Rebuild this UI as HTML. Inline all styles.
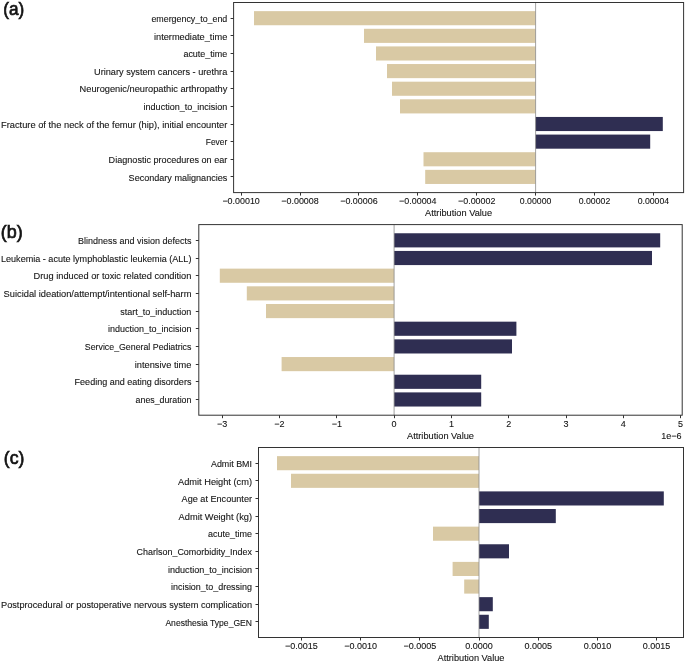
<!DOCTYPE html><html><head><meta charset="utf-8"><style>html,body{margin:0;padding:0;background:#fff;overflow:hidden;}svg{display:block;will-change:transform;}text{font-family:"Liberation Sans",sans-serif;}</style></head><body><svg width="685" height="662" viewBox="0 0 685 662" font-family="Liberation Sans, sans-serif">
<rect width="685" height="662" fill="#ffffff"/>
<rect x="254.00" y="11.14" width="281.60" height="14.11" fill="#D9C9A4"/>
<rect x="364.00" y="28.78" width="171.60" height="14.11" fill="#D9C9A4"/>
<rect x="376.00" y="46.41" width="159.60" height="14.11" fill="#D9C9A4"/>
<rect x="387.00" y="64.04" width="148.60" height="14.11" fill="#D9C9A4"/>
<rect x="392.00" y="81.68" width="143.60" height="14.11" fill="#D9C9A4"/>
<rect x="400.00" y="99.31" width="135.60" height="14.11" fill="#D9C9A4"/>
<rect x="535.60" y="116.95" width="127.20" height="14.11" fill="#2F2E52"/>
<rect x="535.60" y="134.58" width="114.60" height="14.11" fill="#2F2E52"/>
<rect x="423.50" y="152.22" width="112.10" height="14.11" fill="#D9C9A4"/>
<rect x="425.20" y="169.85" width="110.40" height="14.11" fill="#D9C9A4"/>
<line x1="535.60" y1="2.5" x2="535.60" y2="192.6" stroke="#8a8a8a" stroke-width="0.8"/>
<rect x="233.6" y="2.5" width="450.0" height="190.1" fill="none" stroke="#333333" stroke-width="1"/>
<line x1="230.60" y1="18.50" x2="233.6" y2="18.50" stroke="#333333" stroke-width="1"/>
<text x="227.30" y="21.89" text-anchor="end" font-size="9.0" textLength="75.90" lengthAdjust="spacingAndGlyphs" fill="#141414" stroke="#141414" stroke-width="0.1">emergency_to_end</text>
<line x1="230.60" y1="35.50" x2="233.6" y2="35.50" stroke="#333333" stroke-width="1"/>
<text x="227.30" y="39.53" text-anchor="end" font-size="9.0" textLength="73.30" lengthAdjust="spacingAndGlyphs" fill="#141414" stroke="#141414" stroke-width="0.1">intermediate_time</text>
<line x1="230.60" y1="53.50" x2="233.6" y2="53.50" stroke="#333333" stroke-width="1"/>
<text x="227.30" y="57.16" text-anchor="end" font-size="9.0" textLength="43.90" lengthAdjust="spacingAndGlyphs" fill="#141414" stroke="#141414" stroke-width="0.1">acute_time</text>
<line x1="230.60" y1="71.50" x2="233.6" y2="71.50" stroke="#333333" stroke-width="1"/>
<text x="227.30" y="74.80" text-anchor="end" font-size="9.0" textLength="133.30" lengthAdjust="spacingAndGlyphs" fill="#141414" stroke="#141414" stroke-width="0.1">Urinary system cancers - urethra</text>
<line x1="230.60" y1="88.50" x2="233.6" y2="88.50" stroke="#333333" stroke-width="1"/>
<text x="227.30" y="92.43" text-anchor="end" font-size="9.0" textLength="147.70" lengthAdjust="spacingAndGlyphs" fill="#141414" stroke="#141414" stroke-width="0.1">Neurogenic/neuropathic arthropathy</text>
<line x1="230.60" y1="106.50" x2="233.6" y2="106.50" stroke="#333333" stroke-width="1"/>
<text x="227.30" y="110.07" text-anchor="end" font-size="9.0" textLength="83.70" lengthAdjust="spacingAndGlyphs" fill="#141414" stroke="#141414" stroke-width="0.1">induction_to_incision</text>
<line x1="230.60" y1="124.50" x2="233.6" y2="124.50" stroke="#333333" stroke-width="1"/>
<text x="227.30" y="127.70" text-anchor="end" font-size="9.0" textLength="226.30" lengthAdjust="spacingAndGlyphs" fill="#141414" stroke="#141414" stroke-width="0.1">Fracture of the neck of the femur (hip), initial encounter</text>
<line x1="230.60" y1="141.50" x2="233.6" y2="141.50" stroke="#333333" stroke-width="1"/>
<text x="227.30" y="145.34" text-anchor="end" font-size="9.0" textLength="21.50" lengthAdjust="spacingAndGlyphs" fill="#141414" stroke="#141414" stroke-width="0.1">Fever</text>
<line x1="230.60" y1="159.50" x2="233.6" y2="159.50" stroke="#333333" stroke-width="1"/>
<text x="227.30" y="162.97" text-anchor="end" font-size="9.0" textLength="118.70" lengthAdjust="spacingAndGlyphs" fill="#141414" stroke="#141414" stroke-width="0.1">Diagnostic procedures on ear</text>
<line x1="230.60" y1="176.50" x2="233.6" y2="176.50" stroke="#333333" stroke-width="1"/>
<text x="227.30" y="180.61" text-anchor="end" font-size="9.0" textLength="98.70" lengthAdjust="spacingAndGlyphs" fill="#141414" stroke="#141414" stroke-width="0.1">Secondary malignancies</text>
<line x1="241.50" y1="192.6" x2="241.50" y2="195.60" stroke="#333333" stroke-width="1"/>
<text x="241.10" y="204.40" text-anchor="middle" font-size="9.0" textLength="37.40" lengthAdjust="spacingAndGlyphs" fill="#141414" stroke="#141414" stroke-width="0.1">−0.00010</text>
<line x1="300.50" y1="192.6" x2="300.50" y2="195.60" stroke="#333333" stroke-width="1"/>
<text x="300.00" y="204.40" text-anchor="middle" font-size="9.0" textLength="37.40" lengthAdjust="spacingAndGlyphs" fill="#141414" stroke="#141414" stroke-width="0.1">−0.00008</text>
<line x1="358.50" y1="192.6" x2="358.50" y2="195.60" stroke="#333333" stroke-width="1"/>
<text x="358.90" y="204.40" text-anchor="middle" font-size="9.0" textLength="37.40" lengthAdjust="spacingAndGlyphs" fill="#141414" stroke="#141414" stroke-width="0.1">−0.00006</text>
<line x1="417.50" y1="192.6" x2="417.50" y2="195.60" stroke="#333333" stroke-width="1"/>
<text x="417.80" y="204.40" text-anchor="middle" font-size="9.0" textLength="37.40" lengthAdjust="spacingAndGlyphs" fill="#141414" stroke="#141414" stroke-width="0.1">−0.00004</text>
<line x1="476.50" y1="192.6" x2="476.50" y2="195.60" stroke="#333333" stroke-width="1"/>
<text x="476.70" y="204.40" text-anchor="middle" font-size="9.0" textLength="37.40" lengthAdjust="spacingAndGlyphs" fill="#141414" stroke="#141414" stroke-width="0.1">−0.00002</text>
<line x1="535.50" y1="192.6" x2="535.50" y2="195.60" stroke="#333333" stroke-width="1"/>
<text x="535.60" y="204.40" text-anchor="middle" font-size="9.0" textLength="31.50" lengthAdjust="spacingAndGlyphs" fill="#141414" stroke="#141414" stroke-width="0.1">0.00000</text>
<line x1="594.50" y1="192.6" x2="594.50" y2="195.60" stroke="#333333" stroke-width="1"/>
<text x="594.50" y="204.40" text-anchor="middle" font-size="9.0" textLength="31.50" lengthAdjust="spacingAndGlyphs" fill="#141414" stroke="#141414" stroke-width="0.1">0.00002</text>
<line x1="653.50" y1="192.6" x2="653.50" y2="195.60" stroke="#333333" stroke-width="1"/>
<text x="653.40" y="204.40" text-anchor="middle" font-size="9.0" textLength="31.50" lengthAdjust="spacingAndGlyphs" fill="#141414" stroke="#141414" stroke-width="0.1">0.00004</text>
<text x="458.60" y="216.00" text-anchor="middle" font-size="9.0" textLength="67.00" lengthAdjust="spacingAndGlyphs" fill="#141414" stroke="#141414" stroke-width="0.1">Attribution Value</text>
<rect x="394.10" y="233.26" width="266.10" height="14.14" fill="#2F2E52"/>
<rect x="394.10" y="250.94" width="257.90" height="14.14" fill="#2F2E52"/>
<rect x="219.80" y="268.63" width="174.30" height="14.14" fill="#D9C9A4"/>
<rect x="246.80" y="286.31" width="147.30" height="14.14" fill="#D9C9A4"/>
<rect x="266.00" y="303.99" width="128.10" height="14.14" fill="#D9C9A4"/>
<rect x="394.10" y="321.67" width="122.30" height="14.14" fill="#2F2E52"/>
<rect x="394.10" y="339.35" width="117.90" height="14.14" fill="#2F2E52"/>
<rect x="281.60" y="357.03" width="112.50" height="14.14" fill="#D9C9A4"/>
<rect x="394.10" y="374.71" width="87.10" height="14.14" fill="#2F2E52"/>
<rect x="394.10" y="392.39" width="87.10" height="14.14" fill="#2F2E52"/>
<line x1="394.10" y1="224.6" x2="394.10" y2="415.2" stroke="#8a8a8a" stroke-width="0.8"/>
<rect x="198.8" y="224.6" width="483.40000000000003" height="190.6" fill="none" stroke="#333333" stroke-width="1"/>
<line x1="195.80" y1="240.50" x2="198.8" y2="240.50" stroke="#333333" stroke-width="1"/>
<text x="191.40" y="244.04" text-anchor="end" font-size="9.0" textLength="113.40" lengthAdjust="spacingAndGlyphs" fill="#141414" stroke="#141414" stroke-width="0.1">Blindness and vision defects</text>
<line x1="195.80" y1="258.50" x2="198.8" y2="258.50" stroke="#333333" stroke-width="1"/>
<text x="191.40" y="261.72" text-anchor="end" font-size="9.0" textLength="190.40" lengthAdjust="spacingAndGlyphs" fill="#141414" stroke="#141414" stroke-width="0.1">Leukemia - acute lymphoblastic leukemia (ALL)</text>
<line x1="195.80" y1="275.50" x2="198.8" y2="275.50" stroke="#333333" stroke-width="1"/>
<text x="191.40" y="279.40" text-anchor="end" font-size="9.0" textLength="157.80" lengthAdjust="spacingAndGlyphs" fill="#141414" stroke="#141414" stroke-width="0.1">Drug induced or toxic related condition</text>
<line x1="195.80" y1="293.50" x2="198.8" y2="293.50" stroke="#333333" stroke-width="1"/>
<text x="191.40" y="297.08" text-anchor="end" font-size="9.0" textLength="187.80" lengthAdjust="spacingAndGlyphs" fill="#141414" stroke="#141414" stroke-width="0.1">Suicidal ideation/attempt/intentional self-harm</text>
<line x1="195.80" y1="311.50" x2="198.8" y2="311.50" stroke="#333333" stroke-width="1"/>
<text x="191.40" y="314.76" text-anchor="end" font-size="9.0" textLength="71.20" lengthAdjust="spacingAndGlyphs" fill="#141414" stroke="#141414" stroke-width="0.1">start_to_induction</text>
<line x1="195.80" y1="328.50" x2="198.8" y2="328.50" stroke="#333333" stroke-width="1"/>
<text x="191.40" y="332.44" text-anchor="end" font-size="9.0" textLength="83.40" lengthAdjust="spacingAndGlyphs" fill="#141414" stroke="#141414" stroke-width="0.1">induction_to_incision</text>
<line x1="195.80" y1="346.50" x2="198.8" y2="346.50" stroke="#333333" stroke-width="1"/>
<text x="191.40" y="350.12" text-anchor="end" font-size="9.0" textLength="106.60" lengthAdjust="spacingAndGlyphs" fill="#141414" stroke="#141414" stroke-width="0.1">Service_General Pediatrics</text>
<line x1="195.80" y1="364.50" x2="198.8" y2="364.50" stroke="#333333" stroke-width="1"/>
<text x="191.40" y="367.80" text-anchor="end" font-size="9.0" textLength="56.60" lengthAdjust="spacingAndGlyphs" fill="#141414" stroke="#141414" stroke-width="0.1">intensive time</text>
<line x1="195.80" y1="381.50" x2="198.8" y2="381.50" stroke="#333333" stroke-width="1"/>
<text x="191.40" y="385.48" text-anchor="end" font-size="9.0" textLength="116.80" lengthAdjust="spacingAndGlyphs" fill="#141414" stroke="#141414" stroke-width="0.1">Feeding and eating disorders</text>
<line x1="195.80" y1="399.50" x2="198.8" y2="399.50" stroke="#333333" stroke-width="1"/>
<text x="191.40" y="403.16" text-anchor="end" font-size="9.0" textLength="55.80" lengthAdjust="spacingAndGlyphs" fill="#141414" stroke="#141414" stroke-width="0.1">anes_duration</text>
<line x1="222.50" y1="415.2" x2="222.50" y2="418.20" stroke="#333333" stroke-width="1"/>
<text x="222.20" y="427.00" text-anchor="middle" font-size="9.0" fill="#141414" stroke="#141414" stroke-width="0.1">−3</text>
<line x1="279.50" y1="415.2" x2="279.50" y2="418.20" stroke="#333333" stroke-width="1"/>
<text x="279.50" y="427.00" text-anchor="middle" font-size="9.0" fill="#141414" stroke="#141414" stroke-width="0.1">−2</text>
<line x1="336.50" y1="415.2" x2="336.50" y2="418.20" stroke="#333333" stroke-width="1"/>
<text x="336.80" y="427.00" text-anchor="middle" font-size="9.0" fill="#141414" stroke="#141414" stroke-width="0.1">−1</text>
<line x1="394.50" y1="415.2" x2="394.50" y2="418.20" stroke="#333333" stroke-width="1"/>
<text x="394.10" y="427.00" text-anchor="middle" font-size="9.0" fill="#141414" stroke="#141414" stroke-width="0.1">0</text>
<line x1="451.50" y1="415.2" x2="451.50" y2="418.20" stroke="#333333" stroke-width="1"/>
<text x="451.40" y="427.00" text-anchor="middle" font-size="9.0" fill="#141414" stroke="#141414" stroke-width="0.1">1</text>
<line x1="508.50" y1="415.2" x2="508.50" y2="418.20" stroke="#333333" stroke-width="1"/>
<text x="508.70" y="427.00" text-anchor="middle" font-size="9.0" fill="#141414" stroke="#141414" stroke-width="0.1">2</text>
<line x1="566.50" y1="415.2" x2="566.50" y2="418.20" stroke="#333333" stroke-width="1"/>
<text x="566.00" y="427.00" text-anchor="middle" font-size="9.0" fill="#141414" stroke="#141414" stroke-width="0.1">3</text>
<line x1="623.50" y1="415.2" x2="623.50" y2="418.20" stroke="#333333" stroke-width="1"/>
<text x="623.30" y="427.00" text-anchor="middle" font-size="9.0" fill="#141414" stroke="#141414" stroke-width="0.1">4</text>
<line x1="680.50" y1="415.2" x2="680.50" y2="418.20" stroke="#333333" stroke-width="1"/>
<text x="680.60" y="427.00" text-anchor="middle" font-size="9.0" fill="#141414" stroke="#141414" stroke-width="0.1">5</text>
<text x="440.50" y="438.60" text-anchor="middle" font-size="9.0" textLength="67.00" lengthAdjust="spacingAndGlyphs" fill="#141414" stroke="#141414" stroke-width="0.1">Attribution Value</text>
<rect x="277.00" y="456.14" width="202.00" height="14.10" fill="#D9C9A4"/>
<rect x="291.00" y="473.76" width="188.00" height="14.10" fill="#D9C9A4"/>
<rect x="479.00" y="491.39" width="184.80" height="14.10" fill="#2F2E52"/>
<rect x="479.00" y="509.01" width="76.80" height="14.10" fill="#2F2E52"/>
<rect x="433.00" y="526.64" width="46.00" height="14.10" fill="#D9C9A4"/>
<rect x="479.00" y="544.26" width="30.00" height="14.10" fill="#2F2E52"/>
<rect x="452.60" y="561.89" width="26.40" height="14.10" fill="#D9C9A4"/>
<rect x="464.20" y="579.51" width="14.80" height="14.10" fill="#D9C9A4"/>
<rect x="479.00" y="597.14" width="13.80" height="14.10" fill="#2F2E52"/>
<rect x="479.00" y="614.76" width="9.80" height="14.10" fill="#2F2E52"/>
<line x1="479.00" y1="447.5" x2="479.00" y2="637.5" stroke="#8a8a8a" stroke-width="0.8"/>
<rect x="258.5" y="447.5" width="425.0" height="190.0" fill="none" stroke="#333333" stroke-width="1"/>
<line x1="255.50" y1="463.50" x2="258.5" y2="463.50" stroke="#333333" stroke-width="1"/>
<text x="252.00" y="466.89" text-anchor="end" font-size="9.0" textLength="41.00" lengthAdjust="spacingAndGlyphs" fill="#141414" stroke="#141414" stroke-width="0.1">Admit BMI</text>
<line x1="255.50" y1="480.50" x2="258.5" y2="480.50" stroke="#333333" stroke-width="1"/>
<text x="252.00" y="484.51" text-anchor="end" font-size="9.0" textLength="74.00" lengthAdjust="spacingAndGlyphs" fill="#141414" stroke="#141414" stroke-width="0.1">Admit Height (cm)</text>
<line x1="255.50" y1="498.50" x2="258.5" y2="498.50" stroke="#333333" stroke-width="1"/>
<text x="252.00" y="502.14" text-anchor="end" font-size="9.0" textLength="70.40" lengthAdjust="spacingAndGlyphs" fill="#141414" stroke="#141414" stroke-width="0.1">Age at Encounter</text>
<line x1="255.50" y1="516.50" x2="258.5" y2="516.50" stroke="#333333" stroke-width="1"/>
<text x="252.00" y="519.76" text-anchor="end" font-size="9.0" textLength="73.40" lengthAdjust="spacingAndGlyphs" fill="#141414" stroke="#141414" stroke-width="0.1">Admit Weight (kg)</text>
<line x1="255.50" y1="533.50" x2="258.5" y2="533.50" stroke="#333333" stroke-width="1"/>
<text x="252.00" y="537.39" text-anchor="end" font-size="9.0" textLength="44.00" lengthAdjust="spacingAndGlyphs" fill="#141414" stroke="#141414" stroke-width="0.1">acute_time</text>
<line x1="255.50" y1="551.50" x2="258.5" y2="551.50" stroke="#333333" stroke-width="1"/>
<text x="252.00" y="555.01" text-anchor="end" font-size="9.0" textLength="115.40" lengthAdjust="spacingAndGlyphs" fill="#141414" stroke="#141414" stroke-width="0.1">Charlson_Comorbidity_Index</text>
<line x1="255.50" y1="568.50" x2="258.5" y2="568.50" stroke="#333333" stroke-width="1"/>
<text x="252.00" y="572.64" text-anchor="end" font-size="9.0" textLength="84.00" lengthAdjust="spacingAndGlyphs" fill="#141414" stroke="#141414" stroke-width="0.1">induction_to_incision</text>
<line x1="255.50" y1="586.50" x2="258.5" y2="586.50" stroke="#333333" stroke-width="1"/>
<text x="252.00" y="590.26" text-anchor="end" font-size="9.0" textLength="81.00" lengthAdjust="spacingAndGlyphs" fill="#141414" stroke="#141414" stroke-width="0.1">incision_to_dressing</text>
<line x1="255.50" y1="604.50" x2="258.5" y2="604.50" stroke="#333333" stroke-width="1"/>
<text x="252.00" y="607.89" text-anchor="end" font-size="9.0" textLength="251.00" lengthAdjust="spacingAndGlyphs" fill="#141414" stroke="#141414" stroke-width="0.1">Postprocedural or postoperative nervous system complication</text>
<line x1="255.50" y1="621.50" x2="258.5" y2="621.50" stroke="#333333" stroke-width="1"/>
<text x="252.00" y="625.51" text-anchor="end" font-size="9.0" textLength="86.60" lengthAdjust="spacingAndGlyphs" fill="#141414" stroke="#141414" stroke-width="0.1">Anesthesia Type_GEN</text>
<line x1="301.50" y1="637.5" x2="301.50" y2="640.50" stroke="#333333" stroke-width="1"/>
<text x="301.40" y="649.00" text-anchor="middle" font-size="9.0" fill="#141414" stroke="#141414" stroke-width="0.1">−0.0015</text>
<line x1="360.50" y1="637.5" x2="360.50" y2="640.50" stroke="#333333" stroke-width="1"/>
<text x="360.60" y="649.00" text-anchor="middle" font-size="9.0" fill="#141414" stroke="#141414" stroke-width="0.1">−0.0010</text>
<line x1="419.50" y1="637.5" x2="419.50" y2="640.50" stroke="#333333" stroke-width="1"/>
<text x="419.80" y="649.00" text-anchor="middle" font-size="9.0" fill="#141414" stroke="#141414" stroke-width="0.1">−0.0005</text>
<line x1="479.50" y1="637.5" x2="479.50" y2="640.50" stroke="#333333" stroke-width="1"/>
<text x="479.00" y="649.00" text-anchor="middle" font-size="9.0" fill="#141414" stroke="#141414" stroke-width="0.1">0.0000</text>
<line x1="538.50" y1="637.5" x2="538.50" y2="640.50" stroke="#333333" stroke-width="1"/>
<text x="538.20" y="649.00" text-anchor="middle" font-size="9.0" fill="#141414" stroke="#141414" stroke-width="0.1">0.0005</text>
<line x1="597.50" y1="637.5" x2="597.50" y2="640.50" stroke="#333333" stroke-width="1"/>
<text x="597.40" y="649.00" text-anchor="middle" font-size="9.0" fill="#141414" stroke="#141414" stroke-width="0.1">0.0010</text>
<line x1="656.50" y1="637.5" x2="656.50" y2="640.50" stroke="#333333" stroke-width="1"/>
<text x="656.60" y="649.00" text-anchor="middle" font-size="9.0" fill="#141414" stroke="#141414" stroke-width="0.1">0.0015</text>
<text x="471.00" y="660.80" text-anchor="middle" font-size="9.0" textLength="67.00" lengthAdjust="spacingAndGlyphs" fill="#141414" stroke="#141414" stroke-width="0.1">Attribution Value</text>
<text x="681.50" y="438.50" text-anchor="end" font-size="9.0" fill="#141414" stroke="#141414" stroke-width="0.1">1e−6</text>
<text x="3.20" y="14.60" font-size="18" textLength="21.0" lengthAdjust="spacingAndGlyphs" fill="#141414" stroke="#141414" stroke-width="0.7">(<tspan font-size="18">a</tspan>)</text>
<text x="0.80" y="238.00" font-size="18" textLength="22.0" lengthAdjust="spacingAndGlyphs" fill="#141414" stroke="#141414" stroke-width="0.7">(<tspan font-size="18">b</tspan>)</text>
<text x="3.80" y="463.70" font-size="18" textLength="20.5" lengthAdjust="spacingAndGlyphs" fill="#141414" stroke="#141414" stroke-width="0.7">(<tspan font-size="18">c</tspan>)</text>
</svg></body></html>
